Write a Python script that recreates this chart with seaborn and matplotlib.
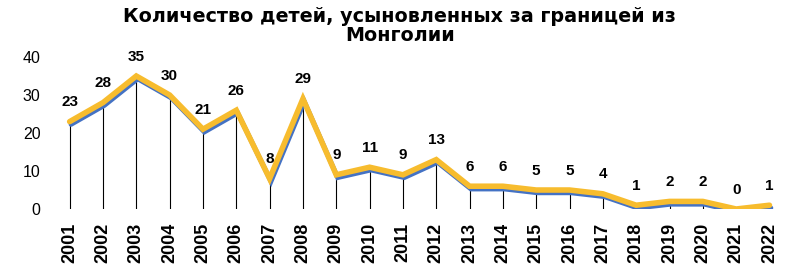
import pandas as pd
import matplotlib.pyplot as plt
import matplotlib.transforms as mtransforms
import seaborn as sns

# Данные
years = ["2001", "2002", "2003", "2004", "2005", "2006", "2007", "2008", "2009", "2010", "2011",
         "2012", "2013", "2014", "2015", "2016", "2017", "2018", "2019", "2020", "2021", "2022"]
children = [23, 28, 35, 30, 21, 26, 8, 29, 9, 11, 9, 13, 6, 6, 5, 5, 4, 1, 2, 2, 0, 1]

title = "Количество детей, усыновленных за границей из\nМонголии"

sns.set_theme(style="white")
plt.rcParams['font.family'] = ['Liberation Sans', 'DejaVu Sans']
for key in ["text.color", "xtick.color", "ytick.color", "axes.labelcolor"]:
    plt.rcParams[key] = "black"

df = pd.DataFrame({"pos": range(len(years)), "year": years, "value": children})

fig = plt.figure(figsize=(8.03, 2.69), dpi=100)
ax = fig.add_axes([0.066, 0.223, 0.913, 0.565])

# вертикальные линии до оси
ax.vlines(df["pos"], 0, df["value"], color="black", lw=0.8, zorder=1)

# синяя "тень" под жёлтой линией
sns.lineplot(data=df, x="pos", y="value", ax=ax, color="#4472C4", lw=3.5, zorder=2)
shadow = ax.lines[-1]
shadow.set_transform(ax.transData + mtransforms.ScaledTranslation(1 / 72, -2 / 72, fig.dpi_scale_trans))
sns.lineplot(data=df, x="pos", y="value", ax=ax, color="#F7BC2E", lw=4, zorder=3)
for ln in ax.lines:
    ln.set_solid_joinstyle("miter")

# подписи значений
for x, v in zip(df["pos"], df["value"]):
    ax.annotate(str(v), (x, v), xytext=(0, 9), textcoords="offset points",
                ha="center", va="bottom", fontsize=11, fontweight="bold", annotation_clip=False)

ax.set_xlim(-0.5, len(years) - 0.5)
ax.set_ylim(0, 40)
ax.set_yticks([0, 10, 20, 30, 40])
ax.set_xticks(df["pos"])
ax.set_xticklabels(years, rotation=90, fontweight="bold", fontsize=13)
ax.tick_params(axis="y", labelsize=11.5, pad=3)
ax.tick_params(axis="x", pad=4)
ax.set_xlabel("")
ax.set_ylabel("")
sns.despine(ax=ax, left=True, bottom=True)

fig.suptitle(title, fontsize=13.8, fontweight="bold", family=['DejaVu Sans'], x=0.498, y=0.975, linespacing=1.0)

plt.savefig("out.png", dpi=100)
plt.close()
